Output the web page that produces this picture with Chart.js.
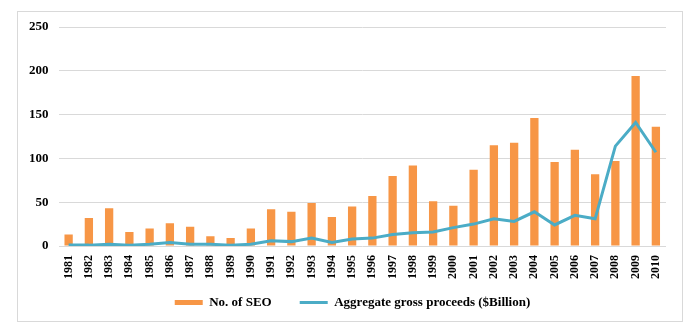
<!DOCTYPE html>
<html>
<head>
<meta charset="utf-8">
<script src="https://cdn.jsdelivr.net/npm/chart.js@4/dist/chart.umd.min.js"></script>
<style>
   body { margin: 0; background: #ffffff; }
   #frame {
      position: absolute;
      left: 17px;
      top: 11px;
      width: 664px;
      height: 309px;
      border: 1px solid #d9d9d9;
   }
   #wrap {
      position: absolute;
      left: 0;
      top: 0;
      width: 700px;
      height: 329px;
   }
</style>
</head>
<body>
<div id="frame"></div>
<div id="wrap"><canvas id="seoChart"></canvas></div>
<script>
const years = [
   '1981', '1982', '1983', '1984', '1985', '1986', '1987', '1988', '1989', '1990',
   '1991', '1992', '1993', '1994', '1995', '1996', '1997', '1998', '1999', '2000',
   '2001', '2002', '2003', '2004', '2005', '2006', '2007', '2008', '2009', '2010'
];
const seoCount = [
   13, 32, 43, 16, 20, 26, 22, 11, 9, 20,
   42, 39, 49, 33, 45, 57, 80, 92, 51, 46,
   87, 115, 118, 146, 96, 110, 82, 97, 194, 136
];
const grossProceeds = [
   1, 1, 2, 1, 2, 4, 2, 2, 1, 2,
   6, 5, 9, 4, 8, 9, 13, 15, 16, 21,
   25, 31, 28, 39, 24, 35, 31, 114, 141, 107
];
const yTicks = [0, 50, 100, 150, 200, 250];

// legend padding also sets the gap between the two items, which is wide,
// so shave the reserved height and pull the row up after layout
const LegendTweak = {
   id: 'legendtweak',
   beforeLayout: (chart) => {
      const legend = chart.legend;
      if (!legend || legend._tweaked) {
         return;
      }
      const fit = legend.fit;
      legend.fit = function() {
         fit.call(this);
         this.height -= 10;
      };
      legend._tweaked = true;
   },
   afterLayout: (chart) => {
      const legend = chart.legend;
      legend.top -= 20;
      legend.bottom -= 20;
      // centre the row on the frame rather than on the padded canvas
      legend.left += 10;
      legend.right += 10;
   }
};

Chart.register(LegendTweak);
Chart.defaults.color = '#000000';
Chart.defaults.font = {
   family: "'Liberation Serif', 'Times New Roman', serif",
   size: 13,
   weight: 'bold'
};

new Chart(document.getElementById('seoChart'), {
   type: 'bar',
   data: {
      labels: years,
      datasets: [{
         type: 'bar',
         label: 'No. of SEO',
         data: seoCount,
         backgroundColor: '#f79646',
         borderWidth: 0,
         pointStyle: 'rect',
         barPercentage: 0.41,
         categoryPercentage: 1,
         order: 1
      }, {
         type: 'line',
         label: 'Aggregate gross proceeds ($Billion)',
         data: grossProceeds,
         borderColor: '#4bacc6',
         backgroundColor: '#4bacc6',
         borderWidth: 3,
         pointRadius: 0,
         pointStyle: 'line',
         tension: 0,
         order: 0 // keeps the line above the bars
      }]
   },
   options: {
      responsive: true,
      maintainAspectRatio: false,
      animation: false,
      events: [],
      layout: {
         padding: { left: 19, right: 34, top: 27, bottom: 0 }
      },
      plugins: {
         tooltip: { enabled: false },
         legend: {
            position: 'bottom',
            reverse: true, // bars first, line second
            labels: {
               usePointStyle: true,
               pointStyleWidth: 28,
               boxHeight: 5,
               padding: 28,
               font: { size: 13 }
            }
         }
      },
      scales: {
         x: {
            grid: { display: false, drawTicks: false },
            border: { display: false },
            ticks: {
               minRotation: 90,
               maxRotation: 90,
               autoSkip: false,
               padding: 9,
               font: { size: 12 }
            }
         },
         y: {
            min: 0,
            max: 250,
            afterBuildTicks: (axis) => {
               axis.ticks = yTicks.map(v => ({ value: v }));
            },
            grid: {
               color: '#d9d9d9',
               drawTicks: false
            },
            border: { display: false },
            ticks: { padding: 10 }
         }
      }
   }
});
</script>
</body>
</html>
